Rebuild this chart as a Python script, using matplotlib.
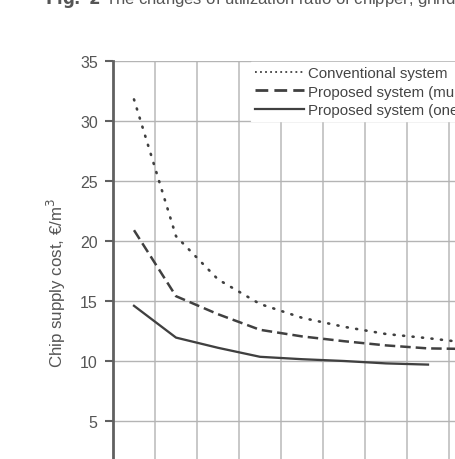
import matplotlib
matplotlib.use("Agg")
import matplotlib.pyplot as plt
from matplotlib.lines import Line2D

plt.rcParams['font.family'] = ['Liberation Sans', 'DejaVu Sans']

# position of each point along x (half way between gridlines)
x_conv = [0.5, 1.5, 2.5, 3.5, 4.5, 5.5, 6.5, 7.5, 8.5]
conventional = [31.8, 20.4, 16.8, 14.75, 13.6, 12.85, 12.25, 11.9, 11.5]

x_multi = [0.5, 1.5, 2.5, 3.5, 4.5, 5.5, 6.5, 7.5, 8.5]
proposed_multi = [20.9, 15.4, 13.9, 12.6, 12.05, 11.65, 11.3, 11.05, 11.0]

x_one = [0.5, 1.5, 2.5, 3.5, 4.5, 5.5, 6.5, 7.5]
proposed_one = [14.6, 11.95, 11.1, 10.35, 10.15, 10.0, 9.8, 9.7]

labels = ["Conventional system", "Proposed system (multi-site)", "Proposed system (one site)"]
y_ticks = [5, 10, 15, 20, 25, 30, 35]

W, H = 455, 460
fig = plt.figure(figsize=(W / 100, H / 100), dpi=100)
ax = fig.add_axes([113 / W, -22 / H, 378 / W, 420 / H])

line_col = '#404040'
ax.plot(x_conv, conventional, color=line_col, lw=1.9, linestyle=(0, (0.4, 3.2)),
        dash_capstyle='round')
ax.plot(x_multi, proposed_multi, color=line_col, lw=1.8, linestyle=(0, (4.2, 2.0)))
ax.plot(x_one, proposed_one, color=line_col, lw=1.65)

ax.set_xlim(0, 9)
ax.set_ylim(0, 35)
ax.set_xticks(range(0, 10))
ax.set_yticks(y_ticks)
ax.set_yticklabels([str(t) for t in y_ticks])
ax.tick_params(axis='y', direction='out', length=6, width=1.5, color='#606060',
               labelsize=11.5, labelcolor='#555555', pad=5)
ax.tick_params(axis='x', length=0, labelbottom=False)

ax.grid(True, axis='y', color='#b4b4b4', lw=1.0)
ax.grid(True, axis='x', color='#c8c8c8', lw=1.4)
ax.set_axisbelow(True)

for s in ['top', 'right', 'bottom']:
    ax.spines[s].set_visible(False)
ax.spines['left'].set_color('#606060')
ax.spines['left'].set_linewidth(2.0)

ax.set_ylabel("Chip supply cost, €/m$^3$", fontsize=12.2, color='#555555')
ax.yaxis.set_label_coords(-0.12, 0.474)

# legend keys drawn like the reference's legend
handles = [
    Line2D([], [], color=line_col, lw=1.3, linestyle=(0, (1.0, 1.8))),
    Line2D([], [], color=line_col, lw=2.0, linestyle=(0, (4.6, 2.2))),
    Line2D([], [], color=line_col, lw=1.6),
]
leg = ax.legend(handles, labels, loc='upper left', bbox_to_anchor=(0.365, 0.997),
                fontsize=10.8, frameon=True, fancybox=False, framealpha=1.0,
                edgecolor='white', handlelength=3.3, handletextpad=0.28,
                labelspacing=0.3, borderpad=0.25, borderaxespad=0)
for t in leg.get_texts():
    t.set_color('#444444')

fig.text(0.098, 1 - 4 / H,
         r"$\bf{Fig.\ 2}$ The changes of utilization ratio of chipper, grinder and truck",
         fontsize=12, color='#555555', va='baseline', ha='left')

fig.savefig("out.png", dpi=100)
